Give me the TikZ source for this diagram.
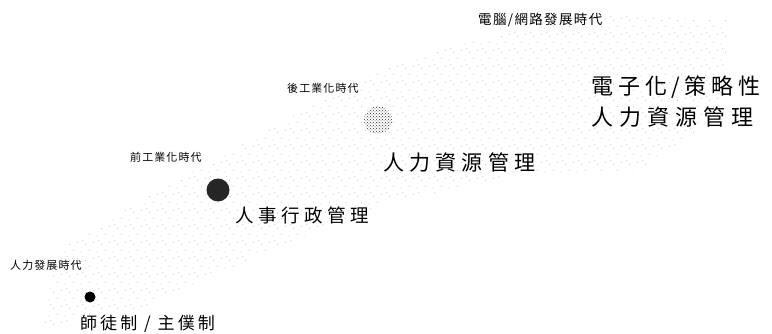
\documentclass[tikz,border=0pt]{standalone}
\usepackage{fontspec}
\newfontfamily\cjkera[LetterSpace=10]{Noto Sans CJK TC}
\newfontfamily\cjkwide[LetterSpace=18]{Noto Sans CJK TC}
\newfontfamily\cjkmid[LetterSpace=25]{Noto Sans CJK TC}
\newfontfamily\cjkbig[LetterSpace=28]{Noto Sans CJK TC}
\newfontfamily\cjkbigb[LetterSpace=24]{Noto Sans CJK TC}
\usetikzlibrary{patterns,patterns.meta}
\tikzdeclarepattern{
  name=sparsedots,
  type=uncolored,
  bounding box={(0pt,0pt) and (16pt,16pt)},
  tile size={(16pt,16pt)},
  code={
    \fill (1pt,2pt) circle (0.45pt);
    \fill (6pt,10pt) circle (0.45pt);
    \fill (10pt,4pt) circle (0.45pt);
    \fill (14pt,12pt) circle (0.45pt);
    \fill (3pt,14pt) circle (0.45pt);
  }
}
\begin{document}
\begin{tikzpicture}[x=1pt,y=-1pt,
  era/.style={font=\cjkera\fontsize{11}{13}\selectfont, inner sep=0pt, anchor=west},
  bigera/.style={font=\cjkera\fontsize{13.5}{15}\selectfont, inner sep=0pt, anchor=west},
  model/.style={font=\cjkwide\fontsize{17}{20}\selectfont, inner sep=0pt, anchor=west},
  midmodel/.style={font=\cjkmid\fontsize{18.5}{22}\selectfont, inner sep=0pt, anchor=west},
  hrmodel/.style={font=\cjkmid\fontsize{21}{24}\selectfont, inner sep=0pt, anchor=west},
  bigmodel/.style={font=\cjkbig\fontsize{22}{26}\selectfont, inner sep=0pt, anchor=west},
  bigmodelb/.style={font=\cjkbigb\fontsize{22}{26}\selectfont, inner sep=0pt, anchor=west},
  band/.style={pattern=sparsedots, pattern color=black!35, draw=none}]
\useasboundingbox (0,0) rectangle (772,334);
% dotted diffuse band
\path[band] (40,330) -- (150,305) -- (260,255) -- (380,205) -- (520,175) -- (640,170)
  -- (720,115) -- (730,20) -- (600,15) -- (470,40) -- (380,70) -- (250,140)
  -- (150,195) -- (60,250) -- cycle;
% milestones
\node[circle, fill=black, minimum size=11pt, inner sep=0pt] (c1) at (90,297) {};
\node[circle, fill=black!85, minimum size=23pt, inner sep=0pt] (c2) at (218,190) {};
\node[circle, pattern=crosshatch dots, pattern color=black!80, minimum size=28pt, inner sep=0pt] (c3) at (378,120) {};
% era labels
\node[era] (e1) at (10,265) {人力發展時代};
\node[era] (e2) at (130,157) {前工業化時代};
\node[era] (e3) at (287,88) {後工業化時代};
\node[bigera] (e4) at (478,20) {電腦/網路發展時代};
% model labels
\node[model] (m1) at (80,324) {師徒制 / 主僕制};
\node[midmodel] (m2) at (235,215) {人事行政管理};
\node[hrmodel] (m3) at (383,162) {人力資源管理};
\node[bigmodelb] (m4a) at (591,87) {電子化\hspace{4pt}/\hspace{4pt}策略性};
\node[bigmodel] (m4b) at (591,117) {人力資源管理};
\end{tikzpicture}
\end{document}
